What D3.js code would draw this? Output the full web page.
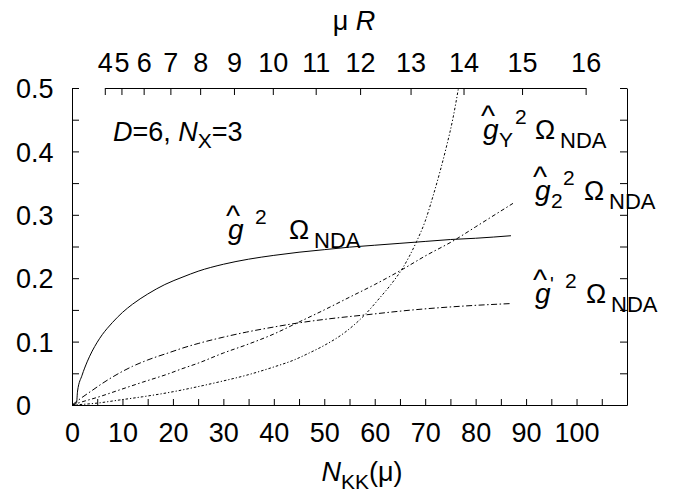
<!DOCTYPE html>
<html>
<head>
<meta charset="utf-8">
<script src="https://cdn.jsdelivr.net/npm/d3@7"></script>
<style>
  html, body { margin: 0; padding: 0; background: #fff; }
  svg { display: block; }
  text { font-family: "Liberation Sans", Arial, Helvetica, sans-serif; fill: #000; }
</style>
</head>
<body>
<div id="chart"></div>
<script>
// ---------- data ----------
const xTicks = d3.range(0, 111, 5);
const xLabels = [0, 10, 20, 30, 40, 50, 60, 70, 80, 90, 100];
const yTicks = d3.range(0, 0.5001, 0.05);
const yLabels = [0, 0.1, 0.2, 0.3, 0.4, 0.5];
// top axis: mu R values and the N_KK where each sits
const muRTicks = [4, 5, 6, 7, 8, 9, 10, 11, 12, 13, 14, 15, 16];
const muRAtN   = [6.5, 9.8, 14.2, 19.5, 25.4, 32.1, 39.8, 48.3, 57.1, 67.1, 77.6, 89.2, 101.8];

// g^2 Omega_NDA (solid)
const gHat = [[0,0],[0.9,0.003],[1.1,0.022],[2,0.047],[3,0.068],[4,0.085],[5,0.099],[6,0.111],[7,0.121],
  [8,0.130],[10,0.146],[12,0.159],[15,0.175],[18.4,0.190],[22,0.202],[25,0.211],[30,0.222],[35,0.230],
  [40,0.236],[45,0.241],[50,0.245],[55,0.249],[60,0.252],[65,0.255],[70,0.258],[75,0.261],[80,0.263],[87,0.267]];
// g'^2 Omega_NDA
const gPrime = [[0,0],[2,0.012],[4,0.023],[6,0.034],[8,0.044],[10,0.053],[12,0.061],[15,0.071],[19.4,0.083],
  [22,0.090],[25,0.097],[30,0.107],[34.6,0.115],[40,0.123],[44.5,0.129],[50,0.135],
  [58,0.142],[67.6,0.150],[77.5,0.156],[87,0.160]];
// g_2^2 Omega_NDA
const gTwo = [[0,0],[2,0.005],[5,0.012],[9.5,0.024],[14,0.036],[19.4,0.050],[21.4,0.056],[25,0.066],[30,0.082],
  [34.6,0.095],[40,0.112],[44.5,0.129],[50,0.150],[55,0.170],[60,0.190],[65.3,0.213],[70,0.235],[75.8,0.260],
  [80,0.281],[87.4,0.318]];
// g_Y^2 Omega_NDA
const gY = [[0,0],[5,0.003],[9.5,0.008],[14,0.013],[19.4,0.020],[25,0.029],[30,0.038],[34.6,0.047],
  [40,0.060],[44,0.071],[47,0.082],[50,0.094],[54,0.114],[58,0.142],[61,0.169],[63.5,0.193],[65.3,0.213],
  [68.3,0.258],[70,0.290],[71.5,0.328],[73,0.370],[74.2,0.407],[75.5,0.452],[76.6,0.500]];

// ---------- layout ----------
const W = 683, H = 499;
const m = { left: 72, right: 56, top: 88, bottom: 94 };
const w = W - m.left - m.right, h = H - m.top - m.bottom;
const FS = 27;

const svg = d3.select("#chart").append("svg").attr("width", W).attr("height", H);
const g = svg.append("g").attr("transform", `translate(${m.left},${m.top})`);

const x = d3.scaleLinear().domain([0, 110]).range([0, w]);
const y = d3.scaleLinear().domain([0, 0.5]).range([h, 0]);
const xTop = d3.scaleLinear().domain(muRTicks).range(muRAtN.map(x));

svg.append("defs").append("clipPath").attr("id", "clip")
  .append("rect").attr("width", w).attr("height", h);

// axes
const fmtX = d => xLabels.includes(d) ? d : "";
const gx = g.append("g").attr("transform", `translate(0,${h})`)
  .call(d3.axisBottom(x).tickValues(xTicks).tickFormat(fmtX).tickSizeInner(-6).tickSizeOuter(0).tickPadding(18));
const gyL = g.append("g")
  .call(d3.axisLeft(y).tickValues(yTicks).tickSizeInner(-7).tickSizeOuter(0)
    .tickFormat(d => { const r = Math.round(d * 100) / 100; return yLabels.some(v => Math.abs(v - r) < 1e-9) ? (r === 0 ? "0" : r.toFixed(1)) : ""; }));
const gyR = g.append("g").attr("transform", `translate(${w},0)`)
  .call(d3.axisRight(y).tickValues(yTicks).tickSizeInner(-7).tickSizeOuter(0).tickFormat(""));
const gt = g.append("g")
  .call(d3.axisTop(xTop).tickValues(muRTicks).tickSizeInner(-7).tickSizeOuter(0).tickPadding(16).tickFormat(d3.format("d")));

[gx, gyL, gyR, gt].forEach(a => {
  a.selectAll("path, line").attr("stroke", "#000").attr("stroke-width", 1);
  a.selectAll("text").style("font-size", FS + "px").attr("fill", "#000");
});
gyL.selectAll("text").attr("text-anchor", "start").attr("x", 16 - m.left).attr("dy", "0.36em");

// curves
const line = d3.line().x(d => x(d[0])).y(d => y(d[1])).curve(d3.curveMonotoneX);
const plot = g.append("g").attr("clip-path", "url(#clip)");
const series = [
  { data: gHat,  dash: null },
  { data: gPrime, dash: "6,2.5,1.5,2.5" },
  { data: gTwo,  dash: "4,2.5,1.5,2.5" },
  { data: gY,    dash: "2.5,2,1.2,2" }
];
series.forEach(s => {
  plot.append("path").datum(s.data).attr("d", line)
    .attr("fill", "none").attr("stroke", "#000").attr("stroke-width", 1)
    .attr("stroke-dasharray", s.dash);
});

// ---------- text labels ----------
// axis titles
const topTitle = svg.append("text").attr("x", 354).attr("y", 30).attr("text-anchor", "middle").style("font-size", FS + "px");
topTitle.append("tspan").text("μ ");
topTitle.append("tspan").style("font-style", "italic").text("R");

const botTitle = svg.append("text").attr("x", 362).attr("y", 481).attr("text-anchor", "middle").style("font-size", FS + "px");
botTitle.append("tspan").style("font-style", "italic").text("N");
botTitle.append("tspan").attr("dy", 8).style("font-size", "21px").text("KK");
botTitle.append("tspan").attr("dy", -8).text("(μ)");

// D=6, N_X=3
const dl = svg.append("text").attr("x", 113).attr("y", 141).style("font-size", "27px");
dl.append("tspan").style("font-style", "italic").text("D");
dl.append("tspan").text("=6, ");
dl.append("tspan").style("font-style", "italic").text("N");
dl.append("tspan").attr("dy", 7).style("font-size", "21px").text("X");
dl.append("tspan").attr("dy", -7).text("=3");

// curve labels: hat-g with optional sub/prime, superscript 2, Omega_NDA (one text element each)
function curveLabel(gx0, base, opts) {
  const tx = svg.append("text");
  const part = (xp, yp, str, size, italic) => tx.append("tspan")
    .attr("x", xp).attr("y", yp).text(str)
    .style("font-size", size + "px").style("font-style", italic ? "italic" : "normal");
  part(gx0 - 2, base - 13, "^", 30, false);
  part(gx0, base, "g", 28, true);
  if (opts.sub) part(gx0 + 16, base + 8, opts.sub, 21, false);
  if (opts.prime) part(gx0 + 15, base - 12, "'", 20, false);
  part(opts.supX, base - 15, "2", 21, false);
  part(opts.omX, base, "Ω", 27, false);
  part(opts.omX + 25, base + 9, "NDA", 22, false);
}
curveLabel(228, 239, { supX: 255, omX: 289 });
curveLabel(483, 139, { sub: "Y", supX: 515, omX: 535 });
curveLabel(535, 200, { sub: "2", supX: 563, omX: 584 });
curveLabel(535, 303, { prime: true, supX: 565, omX: 586 });
</script>
</body>
</html>
